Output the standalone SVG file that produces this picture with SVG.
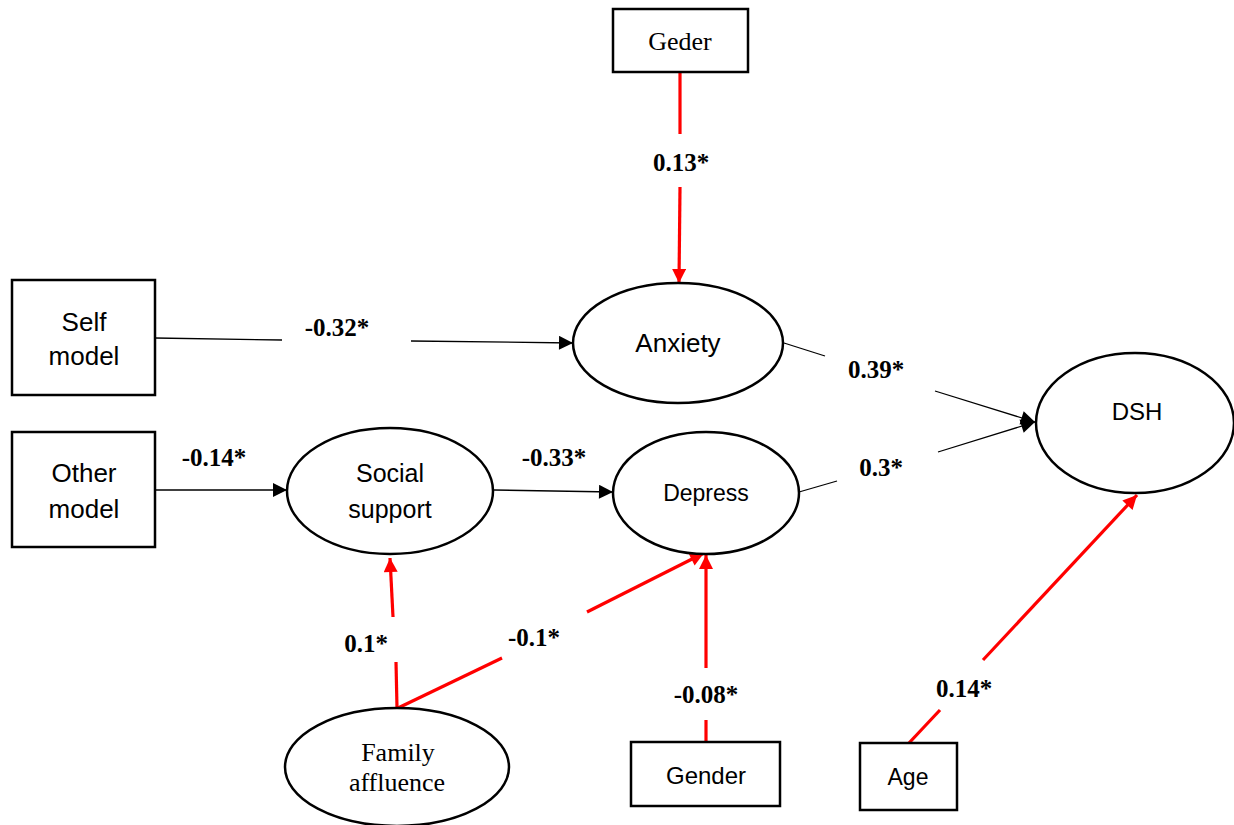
<svg xmlns="http://www.w3.org/2000/svg" width="1234" height="825" viewBox="0 0 1234 825">
<defs>
<marker id="ab" viewBox="0 0 10 10" refX="10" refY="5" markerWidth="16" markerHeight="14" markerUnits="userSpaceOnUse" orient="auto"><path d="M0,0 L10,5 L0,10 z" fill="#000"/></marker>
<marker id="ar" viewBox="0 0 10 10" refX="10" refY="5" markerWidth="16" markerHeight="14" markerUnits="userSpaceOnUse" orient="auto"><path d="M0,0 L10,5 L0,10 z" fill="#ff0000"/></marker>
</defs>
<style>
.box{fill:#fff;stroke:#000;stroke-width:2.5}
.ell{fill:#fff;stroke:#000;stroke-width:2.5}
.sans{font-family:"Liberation Sans",Arial,sans-serif;fill:#000;text-anchor:middle}
.serif{font-family:"Liberation Serif","Times New Roman",serif;fill:#000;text-anchor:middle}
.lbl{font-family:"Liberation Serif","Times New Roman",serif;font-weight:bold;font-size:25px;fill:#000;text-anchor:middle}
.bl{stroke:#000;stroke-width:1.3;fill:none}
.rd{stroke:#ff0000;stroke-width:3.2;fill:none}
</style>
<rect width="1234" height="825" fill="#fff"/>
<g id="connectors">
<line class="rd" x1="680" y1="72" x2="680" y2="134"/>
<line class="rd" x1="680" y1="187" x2="679" y2="283" marker-end="url(#ar)"/>
<line class="bl" x1="155" y1="338" x2="282" y2="340"/>
<line class="bl" x1="411" y1="341" x2="573" y2="343" marker-end="url(#ab)"/>
<line class="bl" x1="155" y1="490" x2="287" y2="490" marker-end="url(#ab)"/>
<line class="bl" x1="494" y1="490" x2="613" y2="492" marker-end="url(#ab)"/>
<line class="bl" x1="784" y1="343" x2="825" y2="356"/>
<line class="bl" x1="935" y1="391" x2="1035" y2="422" marker-end="url(#ab)"/>
<line class="bl" x1="799" y1="492" x2="837" y2="481"/>
<line class="bl" x1="938" y1="452" x2="1035" y2="422" marker-end="url(#ab)"/>
<line class="rd" x1="909" y1="743" x2="940" y2="710"/>
<line class="rd" x1="983" y1="660" x2="1137" y2="495" marker-end="url(#ar)"/>
<line class="rd" x1="397" y1="708" x2="396" y2="662"/>
<line class="rd" x1="393" y1="617" x2="390" y2="558" marker-end="url(#ar)"/>
<line class="rd" x1="398" y1="708" x2="502" y2="658"/>
<line class="rd" x1="587" y1="612" x2="704" y2="553" marker-end="url(#ar)"/>
<line class="rd" x1="706" y1="742" x2="706" y2="720"/>
<line class="rd" x1="706" y1="668" x2="706" y2="555" marker-end="url(#ar)"/>
<text class="lbl" x="681" y="171">0.13*</text>
<text class="lbl" x="337" y="336">-0.32*</text>
<text class="lbl" x="214" y="466">-0.14*</text>
<text class="lbl" x="554" y="466">-0.33*</text>
<text class="lbl" x="876" y="378">0.39*</text>
<text class="lbl" x="881" y="476">0.3*</text>
<text class="lbl" x="366" y="652">0.1*</text>
<text class="lbl" x="534" y="646">-0.1*</text>
<text class="lbl" x="706" y="703">-0.08*</text>
<text class="lbl" x="964" y="697">0.14*</text>
</g>
<g id="geder"><rect class="box" x="613" y="9" width="135" height="63"/><text class="serif" x="680" y="50" font-size="26">Geder</text></g>
<g id="self-model"><rect class="box" x="12" y="280" width="143" height="115"/><text class="sans" x="84" y="331" font-size="26">Self</text><text class="sans" x="84" y="365" font-size="26">model</text></g>
<g id="other-model"><rect class="box" x="12" y="432" width="143" height="115"/><text class="sans" x="84" y="482" font-size="26">Other</text><text class="sans" x="84" y="518" font-size="26">model</text></g>
<g id="anxiety"><ellipse class="ell" cx="678" cy="343" rx="105" ry="60"/><text class="sans" x="678" y="352" font-size="26">Anxiety</text></g>
<g id="social-support"><ellipse class="ell" cx="390" cy="491" rx="103" ry="63"/><text class="sans" x="390" y="482" font-size="25">Social</text><text class="sans" x="390" y="518" font-size="25">support</text></g>
<g id="depress"><ellipse class="ell" cx="706" cy="493" rx="93" ry="61"/><text class="sans" x="706" y="501" font-size="23">Depress</text></g>
<g id="dsh"><ellipse class="ell" cx="1135" cy="423" rx="99" ry="70"/><text class="sans" x="1137" y="420" font-size="24">DSH</text></g>
<g id="family-affluence"><ellipse class="ell" cx="397" cy="767" rx="112" ry="59"/><text class="serif" x="398" y="761" font-size="26">Family</text><text class="serif" x="397" y="791" font-size="26">affluence</text></g>
<g id="gender"><rect class="box" x="631" y="742" width="149" height="64"/><text class="sans" x="706" y="784" font-size="24">Gender</text></g>
<g id="age"><rect class="box" x="860" y="743" width="97" height="67"/><text class="sans" x="908" y="785" font-size="23">Age</text></g>
</svg>
